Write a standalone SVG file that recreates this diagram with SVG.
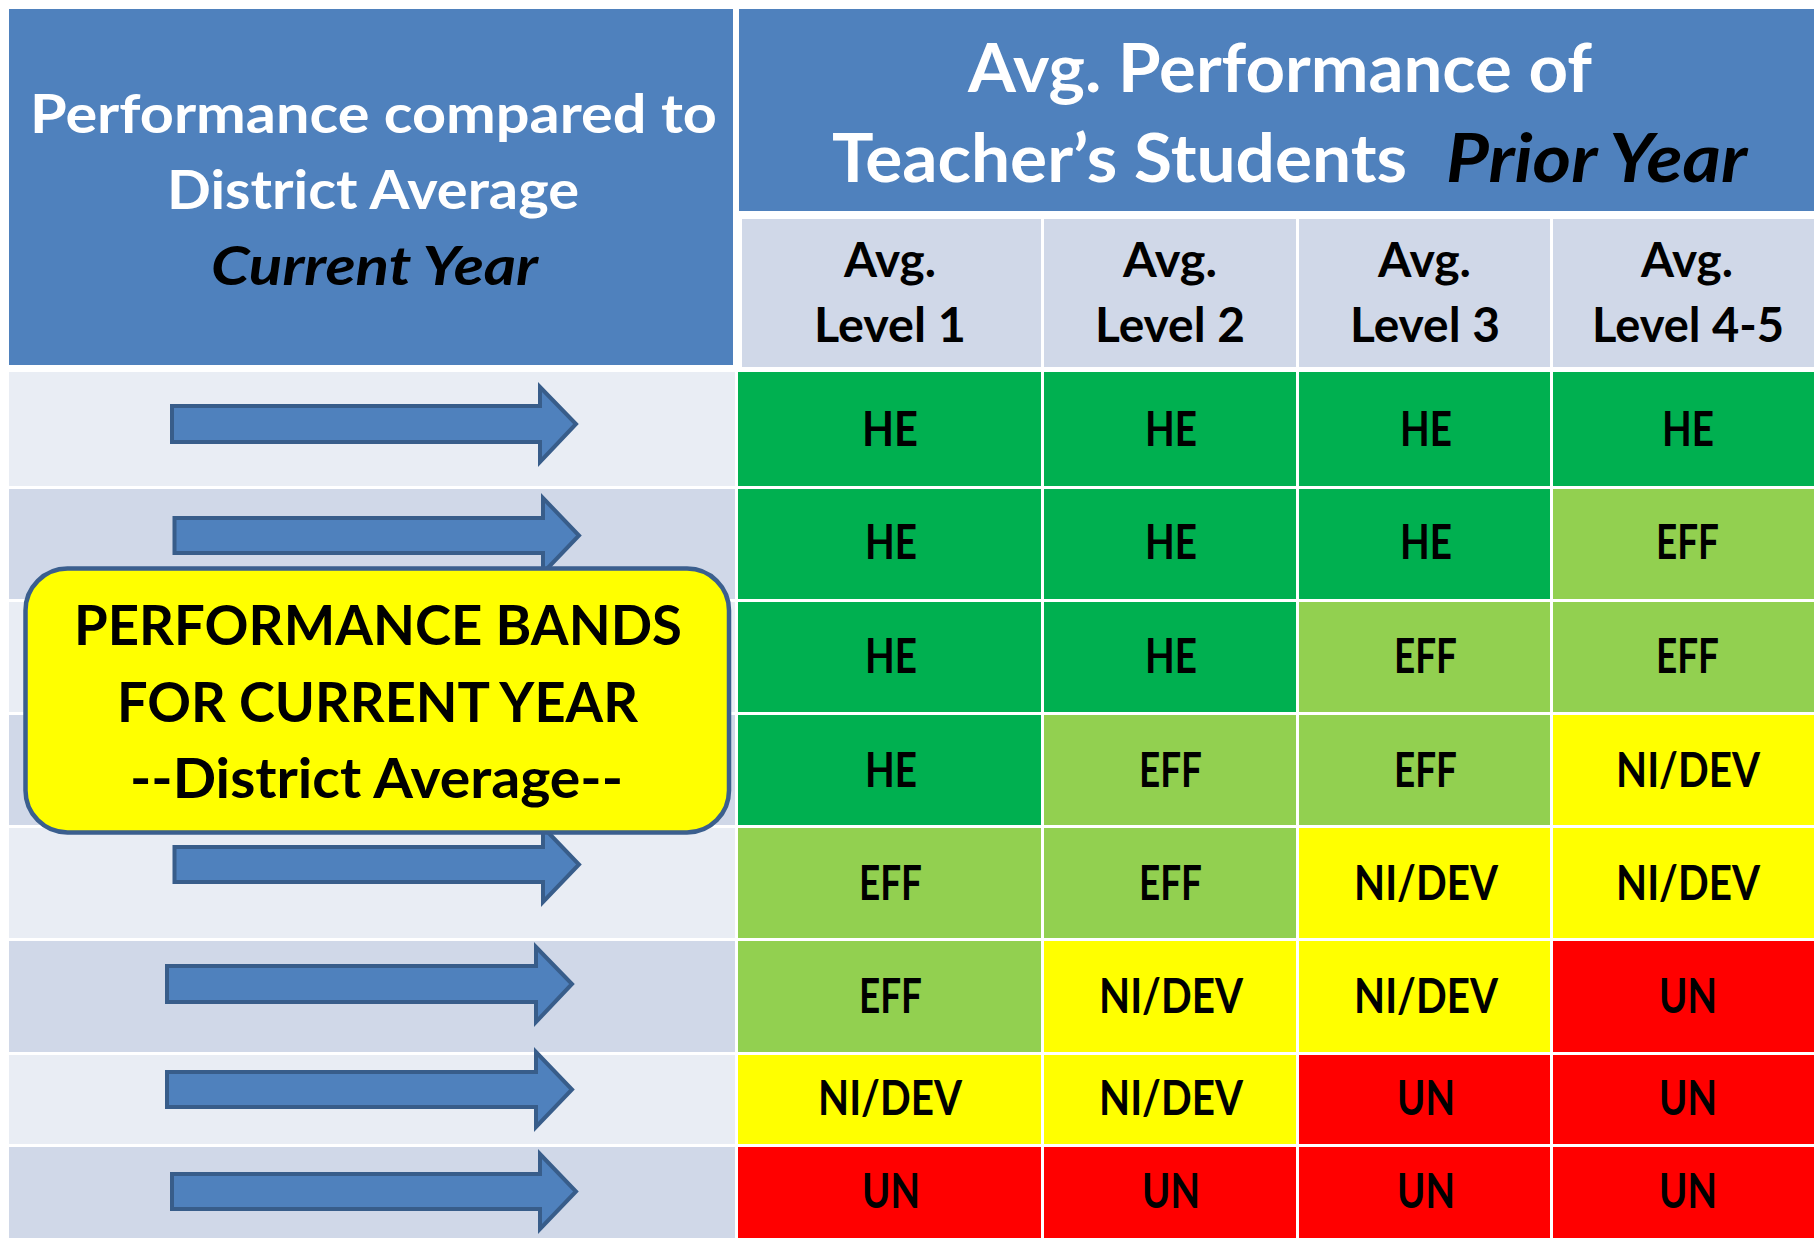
<svg xmlns="http://www.w3.org/2000/svg" width="1814" height="1240" viewBox="0 0 1814 1240">
<style>
.hdr{fill:#4F81BD}
.lt{fill:#E9EDF4}
.dk{fill:#D0D8E8}
.he{fill:#00B050}
.eff{fill:#92D050}
.ni{fill:#FFFF00}
.un{fill:#FF0000}
text{font-family:Lato,"Open Sans","Liberation Sans",sans-serif;font-weight:bold}
.w{fill:#FFFFFF;font-size:53px}
.big{fill:#FFFFFF;font-size:66px}
.it{font-style:italic;fill:#000000}
.ch{font-size:47px;fill:#000000}
.cell{font-size:47px;fill:#000000}
.arrow{fill:#4F81BD;stroke:#385D8A;stroke-width:4;stroke-linejoin:miter}
.box{fill:#FFFF00;stroke:#3B5F8E;stroke-width:4.5}
.yb{font-size:56px;fill:#000000}
</style>
<rect x="0" y="0" width="1814" height="1240" fill="#FFFFFF"/>

<g id="left-header">
<rect class="hdr" x="9" y="9" width="724" height="356"/>
<text class="w" x="30" y="133" textLength="687" lengthAdjust="spacingAndGlyphs">Performance compared to</text>
<text class="w" x="167" y="209" textLength="412" lengthAdjust="spacingAndGlyphs">District Average</text>
<text class="w it" x="211" y="285" textLength="327" lengthAdjust="spacingAndGlyphs">Current Year</text>
</g>

<g id="right-header">
<rect class="hdr" x="739" y="9" width="1075" height="202"/>
<text class="big" x="968" y="92" textLength="624" lengthAdjust="spacingAndGlyphs">Avg. Performance of</text>
<text class="big" x="832" y="182" textLength="575" lengthAdjust="spacingAndGlyphs">Teacher’s Students</text>
<text class="big it" x="1446" y="182" textLength="301" lengthAdjust="spacingAndGlyphs">Prior Year</text>
</g>

<g id="column-headers">
<g id="col-level-1">
<rect class="dk" x="742" y="219" width="299" height="148"/>
<text class="ch" x="844" y="277" textLength="92" lengthAdjust="spacingAndGlyphs">Avg.</text>
<text class="ch" x="814" y="342" textLength="152" lengthAdjust="spacingAndGlyphs">Level 1</text>
</g>
<g id="col-level-2">
<rect class="dk" x="1044" y="219" width="252" height="148"/>
<text class="ch" x="1123" y="277" textLength="94" lengthAdjust="spacingAndGlyphs">Avg.</text>
<text class="ch" x="1095" y="342" textLength="150" lengthAdjust="spacingAndGlyphs">Level 2</text>
</g>
<g id="col-level-3">
<rect class="dk" x="1299" y="219" width="251" height="148"/>
<text class="ch" x="1378" y="277" textLength="93" lengthAdjust="spacingAndGlyphs">Avg.</text>
<text class="ch" x="1350" y="342" textLength="150" lengthAdjust="spacingAndGlyphs">Level 3</text>
</g>
<g id="col-level-4-5">
<rect class="dk" x="1553" y="219" width="261" height="148"/>
<text class="ch" x="1641" y="277" textLength="92" lengthAdjust="spacingAndGlyphs">Avg.</text>
<text class="ch" x="1592" y="342" textLength="192" lengthAdjust="spacingAndGlyphs">Level 4-5</text>
</g>
</g>

<g id="row-bands">
<rect class="lt" x="9" y="372" width="726" height="114"/>
<rect class="dk" x="9" y="489" width="726" height="110"/>
<rect class="lt" x="9" y="602" width="726" height="110"/>
<rect class="dk" x="9" y="715" width="726" height="110"/>
<rect class="lt" x="9" y="828" width="726" height="110"/>
<rect class="dk" x="9" y="941" width="726" height="111"/>
<rect class="lt" x="9" y="1055" width="726" height="89"/>
<rect class="dk" x="9" y="1147" width="726" height="91"/>
</g>

<g id="grid">
<g id="row-1">
<rect class="he" x="738" y="372" width="303" height="114"/><rect class="he" x="1044" y="372" width="252" height="114"/><rect class="he" x="1299" y="372" width="251" height="114"/><rect class="he" x="1553" y="372" width="261" height="114"/>
<text class="cell" x="862" y="446" textLength="56" lengthAdjust="spacingAndGlyphs">HE</text>
<text class="cell" x="1145" y="446" textLength="52" lengthAdjust="spacingAndGlyphs">HE</text>
<text class="cell" x="1400" y="446" textLength="52" lengthAdjust="spacingAndGlyphs">HE</text>
<text class="cell" x="1662" y="446" textLength="52" lengthAdjust="spacingAndGlyphs">HE</text>
</g>
<g id="row-2">
<rect class="he" x="738" y="489" width="303" height="110"/><rect class="he" x="1044" y="489" width="252" height="110"/><rect class="he" x="1299" y="489" width="251" height="110"/><rect class="eff" x="1553" y="489" width="261" height="110"/>
<text class="cell" x="865" y="559" textLength="52" lengthAdjust="spacingAndGlyphs">HE</text>
<text class="cell" x="1145" y="559" textLength="52" lengthAdjust="spacingAndGlyphs">HE</text>
<text class="cell" x="1400" y="559" textLength="52" lengthAdjust="spacingAndGlyphs">HE</text>
<text class="cell" x="1656" y="559" textLength="63" lengthAdjust="spacingAndGlyphs">EFF</text>
</g>
<g id="row-3">
<rect class="he" x="738" y="602" width="303" height="110"/><rect class="he" x="1044" y="602" width="252" height="110"/><rect class="eff" x="1299" y="602" width="251" height="110"/><rect class="eff" x="1553" y="602" width="261" height="110"/>
<text class="cell" x="865" y="673" textLength="52" lengthAdjust="spacingAndGlyphs">HE</text>
<text class="cell" x="1145" y="673" textLength="52" lengthAdjust="spacingAndGlyphs">HE</text>
<text class="cell" x="1394" y="673" textLength="63" lengthAdjust="spacingAndGlyphs">EFF</text>
<text class="cell" x="1656" y="673" textLength="63" lengthAdjust="spacingAndGlyphs">EFF</text>
</g>
<g id="row-4">
<rect class="he" x="738" y="715" width="303" height="110"/><rect class="eff" x="1044" y="715" width="252" height="110"/><rect class="eff" x="1299" y="715" width="251" height="110"/><rect class="ni" x="1553" y="715" width="261" height="110"/>
<text class="cell" x="865" y="787" textLength="52" lengthAdjust="spacingAndGlyphs">HE</text>
<text class="cell" x="1139" y="787" textLength="63" lengthAdjust="spacingAndGlyphs">EFF</text>
<text class="cell" x="1394" y="787" textLength="63" lengthAdjust="spacingAndGlyphs">EFF</text>
<text class="cell" x="1616" y="787" textLength="144" lengthAdjust="spacingAndGlyphs">NI/DEV</text>
</g>
<g id="row-5">
<rect class="eff" x="738" y="828" width="303" height="110"/><rect class="eff" x="1044" y="828" width="252" height="110"/><rect class="ni" x="1299" y="828" width="251" height="110"/><rect class="ni" x="1553" y="828" width="261" height="110"/>
<text class="cell" x="859" y="900" textLength="63" lengthAdjust="spacingAndGlyphs">EFF</text>
<text class="cell" x="1139" y="900" textLength="63" lengthAdjust="spacingAndGlyphs">EFF</text>
<text class="cell" x="1354" y="900" textLength="144" lengthAdjust="spacingAndGlyphs">NI/DEV</text>
<text class="cell" x="1616" y="900" textLength="144" lengthAdjust="spacingAndGlyphs">NI/DEV</text>
</g>
<g id="row-6">
<rect class="eff" x="738" y="941" width="303" height="111"/><rect class="ni" x="1044" y="941" width="252" height="111"/><rect class="ni" x="1299" y="941" width="251" height="111"/><rect class="un" x="1553" y="941" width="261" height="111"/>
<text class="cell" x="859" y="1013" textLength="63" lengthAdjust="spacingAndGlyphs">EFF</text>
<text class="cell" x="1099" y="1013" textLength="144" lengthAdjust="spacingAndGlyphs">NI/DEV</text>
<text class="cell" x="1354" y="1013" textLength="144" lengthAdjust="spacingAndGlyphs">NI/DEV</text>
<text class="cell" x="1659" y="1013" textLength="58" lengthAdjust="spacingAndGlyphs">UN</text>
</g>
<g id="row-7">
<rect class="ni" x="738" y="1055" width="303" height="89"/><rect class="ni" x="1044" y="1055" width="252" height="89"/><rect class="un" x="1299" y="1055" width="251" height="89"/><rect class="un" x="1553" y="1055" width="261" height="89"/>
<text class="cell" x="818" y="1115" textLength="144" lengthAdjust="spacingAndGlyphs">NI/DEV</text>
<text class="cell" x="1099" y="1115" textLength="144" lengthAdjust="spacingAndGlyphs">NI/DEV</text>
<text class="cell" x="1397" y="1115" textLength="58" lengthAdjust="spacingAndGlyphs">UN</text>
<text class="cell" x="1659" y="1115" textLength="58" lengthAdjust="spacingAndGlyphs">UN</text>
</g>
<g id="row-8">
<rect class="un" x="738" y="1147" width="303" height="91"/><rect class="un" x="1044" y="1147" width="252" height="91"/><rect class="un" x="1299" y="1147" width="251" height="91"/><rect class="un" x="1553" y="1147" width="261" height="91"/>
<text class="cell" x="862" y="1208" textLength="58" lengthAdjust="spacingAndGlyphs">UN</text>
<text class="cell" x="1142" y="1208" textLength="58" lengthAdjust="spacingAndGlyphs">UN</text>
<text class="cell" x="1397" y="1208" textLength="58" lengthAdjust="spacingAndGlyphs">UN</text>
<text class="cell" x="1659" y="1208" textLength="58" lengthAdjust="spacingAndGlyphs">UN</text>
</g>
</g>

<g id="connectors">
<path class="arrow" d="M172,406 H540 V387 L576,424 L540,462 V442 H172 Z"/>
<path class="arrow" d="M174.5,518 H543 V498 L579,535.5 L543,573 V553 H174.5 Z"/>
<path class="arrow" d="M174.5,847 H543 V827 L579,864.5 L543,902 V882 H174.5 Z"/>
<path class="arrow" d="M167,966 H536 V947 L572,984 L536,1022 V1002 H167 Z"/>
<path class="arrow" d="M167,1072 H536 V1052 L572,1089.5 L536,1127 V1107 H167 Z"/>
<path class="arrow" d="M172,1174 H540 V1154 L576,1191.5 L540,1229 V1209 H172 Z"/>
</g>

<g id="performance-bands-label">
<rect class="box" x="25.5" y="568.5" width="703.5" height="264" rx="42" ry="42"/>
<text class="yb" x="74" y="645" textLength="608" lengthAdjust="spacingAndGlyphs">PERFORMANCE BANDS</text>
<text class="yb" x="117" y="722" textLength="521" lengthAdjust="spacingAndGlyphs">FOR CURRENT YEAR</text>
<text class="yb" x="130" y="798" textLength="493" lengthAdjust="spacingAndGlyphs">--District Average--</text>
</g>
</svg>
